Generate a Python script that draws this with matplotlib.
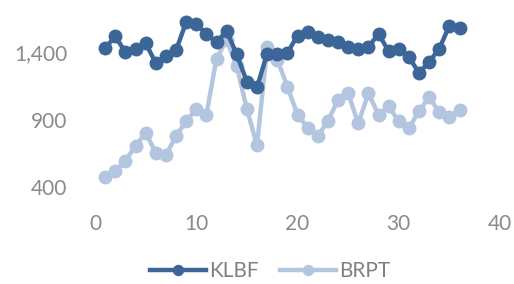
import matplotlib
matplotlib.use("Agg")
import matplotlib.pyplot as plt
from matplotlib.ticker import FuncFormatter

x = list(range(1, 37))
klbf = [1429, 1515, 1400, 1424, 1466, 1319, 1368, 1412, 1620, 1607,
        1534, 1473, 1554, 1383, 1180, 1139, 1388, 1388, 1393, 1522,
        1546, 1510, 1490, 1473, 1437, 1424, 1437, 1534, 1407, 1424,
        1363, 1246, 1327, 1424, 1595, 1578]
brpt = [473, 517, 595, 705, 802, 656, 636, 778, 888, 978,
        936, 1351, 1490, 1295, 978, 709, 1437, 1344, 1144, 936,
        839, 778, 888, 1046, 1095, 871, 1095, 936, 997, 888,
        839, 961, 1066, 953, 919, 973]
xticks = [0, 10, 20, 30, 40]
yticks = [400, 900, 1400]

plt.rcParams['font.family'] = ['Lato', 'DejaVu Sans']

W, H = 514, 284
fig = plt.figure(figsize=(W / 100, H / 100), dpi=100)
# axes: x from px 95 to 500, y from px 10 (top) to 210 (bottom)
ax = fig.add_axes([95 / W, 1 - 210 / H, (500 - 95) / W, 200 / H])
ax.plot(x, klbf, color='#3C6698', lw=3.2, marker='o', ms=9, label='KLBF', zorder=3)
ax.plot(x, brpt, color='#B4C5DF', lw=3.2, marker='o', ms=9, label='BRPT', zorder=2)
ax.set_xlim(0, 40)
ax.set_ylim(1400 - 158 * 7.4, 1400 + 42 * 7.4)
ax.set_xticks(xticks)
ax.set_yticks(yticks)
ax.yaxis.set_major_formatter(FuncFormatter(lambda v, p: f"{int(v):,}"))
for s in ax.spines.values():
    s.set_visible(False)
ax.tick_params(length=0, labelsize=15, colors='#8A8A8A')
ax.tick_params(axis='y', pad=20)
ax.tick_params(axis='x', pad=3)
leg = fig.legend(loc='center', bbox_to_anchor=(270 / W, 1 - 271 / H), ncol=2, frameon=False,
                 fontsize=15, handlelength=2.7, columnspacing=1.0, handletextpad=0.15,
                 markerscale=0.8)
for t in leg.get_texts():
    t.set_color('#808080')
fig.savefig('out.png', dpi=100)
